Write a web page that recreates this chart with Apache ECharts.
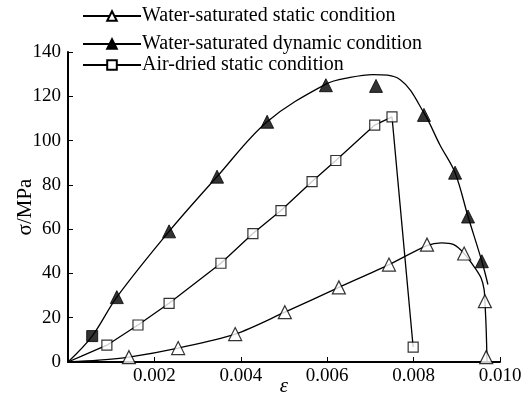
<!DOCTYPE html>
<html>
<head>
<meta charset="utf-8">
<script src="https://cdn.jsdelivr.net/npm/echarts@6/dist/echarts.min.js"></script>
<style>
html,body{margin:0;padding:0;background:#fff;}
#chart{width:530px;height:402px;}
</style>
</head>
<body>
<div id="chart"></div>
<script>
// names of the three test conditions
var seriesNames = ['Water-saturated static condition', 'Water-saturated dynamic condition', 'Air-dried static condition'];
var xTicks = [0, 0.002, 0.004, 0.006, 0.008, 0.010];
var yTicks = [0, 20, 40, 60, 80, 100, 120, 140];

// water-saturated static: curve and markers [strain, stress MPa]
var wsStaticCurve = [[0,0],[0.0007,0.8],[0.00141,2.2],[0.00255,6.3],[0.00387,12.6],[0.00502,22.5],[0.00627,33.7],
  [0.00743,44],[0.00831,52.6],[0.00865,53.8],[0.00893,53],[0.00917,49],[0.00942,42.5],[0.00956,38],
  [0.00963,32.9],[0.00965,27.5],[0.00968,14.9],[0.0097,0]];
var wsStaticMarks = [[0.00141,2.2],[0.00255,6.3],[0.00387,12.6],[0.00502,22.5],[0.00627,33.7],[0.00743,44],
  [0.00831,53],[0.00917,49],[0.00965,27.5],[0.00968,2.2]];

// water-saturated dynamic
var wsDynCurve = [[0,0],[0.00056,11.7],[0.00113,29.3],[0.00234,59],[0.00345,83.7],[0.00461,108.5],
  [0.00597,125.5],[0.00653,128.5],[0.00706,129.8],[0.00769,127.5],[0.00824,112.5],[0.00861,98],
  [0.00896,85.5],[0.00926,65.7],[0.00958,45.5],[0.00972,35]];
var wsDynMarks = [[0.00113,29.3],[0.00234,59],[0.00345,83.7],[0.00461,108.5],[0.00597,125],[0.00713,124.7],
  [0.00824,111.6],[0.00896,85.5],[0.00926,65.7],[0.00958,45.5]];
var wsDynFirst = [[0.00056,11.7]];

// air-dried static
var airCurve = [[0,0],[0.0003,2.5],[0.0009,7.6],[0.00162,16.7],[0.00234,26.5],[0.00354,44.6],[0.00428,58],
  [0.00493,68.4],[0.00565,81.5],[0.0062,91],[0.0071,107],[0.0075,110.7],[0.00799,6.7]];
var airMarks = [[0.0009,7.6],[0.00162,16.7],[0.00234,26.5],[0.00354,44.6],[0.00428,58],[0.00493,68.4],
  [0.00565,81.5],[0.0062,91],[0.0071,107],[0.0075,110.7],[0.00799,6.7]];

var font = 'Liberation Serif';
var openStyle = {color:'#fff', borderColor:'#000', borderWidth:1.2};
var fillStyle = {color:'#000', borderColor:'#000', borderWidth:1};

var myChart = echarts.init(document.getElementById('chart'));

function legendAt(name, top){
  return {
    data:[name], left:82, top:top, itemWidth:58, itemHeight:12, itemGap:0, padding:0,
    textStyle:{fontFamily:font, fontSize:20, color:'#000', padding:[0,0,0,-4]}
  };
}

var option = {
  animation:false,
  backgroundColor:'#fff',
  legend:[legendAt(seriesNames[0], 6), legendAt(seriesNames[1], 34), legendAt(seriesNames[2], 55)],
  grid:{left:68, right:30, top:52, bottom:40, outerBoundsMode:'none', containLabel:false},
  xAxis:{
    type:'value', min:0, max:0.010, interval:0.002,
    name:'ε', nameLocation:'middle', nameGap:14, nameMoveOverlap:false,
    nameTextStyle:{fontFamily:font, fontSize:21, fontStyle:'italic', color:'#000'},
    axisLine:{show:true, lineStyle:{color:'#000', width:2}},
    axisTick:{show:true, inside:true, length:5, lineStyle:{color:'#000', width:1}},
    axisLabel:{fontFamily:font, fontSize:19, color:'#000', margin:5,
      formatter:function(v){ return v === 0 ? '' : v.toFixed(3); }},
    splitLine:{show:false}
  },
  yAxis:{
    type:'value', min:yTicks[0], max:yTicks[yTicks.length-1], interval:20,
    name:'σ/MPa', nameLocation:'middle', nameGap:32, nameRotate:90, nameMoveOverlap:false,
    nameTextStyle:{fontFamily:font, fontSize:21, color:'#000'},
    axisLine:{show:true, lineStyle:{color:'#000', width:2}},
    axisTick:{show:true, inside:true, length:5, lineStyle:{color:'#000', width:1}},
    axisLabel:{fontFamily:font, fontSize:19, color:'#000', margin:7},
    splitLine:{show:false}
  },
  series:[
    {name:seriesNames[0], type:'line', data:wsStaticCurve, smooth:0.3, showSymbol:false,
      symbol:'triangle', symbolSize:11, itemStyle:openStyle, lineStyle:{color:'#000', width:1.3}},
    {name:seriesNames[1], type:'line', data:wsDynCurve, smooth:0.35, showSymbol:false,
      symbol:'triangle', symbolSize:11, itemStyle:fillStyle, lineStyle:{color:'#000', width:1.3}},
    {name:seriesNames[2], type:'line', data:airCurve, smooth:false, showSymbol:false,
      symbol:'rect', symbolSize:9, itemStyle:openStyle, lineStyle:{color:'#000', width:1.3}},
    {name:'m1', type:'scatter', data:wsStaticMarks, symbol:'triangle', symbolSize:13, itemStyle:openStyle, z:5},
    {name:'m2', type:'scatter', data:wsDynMarks, symbol:'triangle', symbolSize:13, itemStyle:fillStyle, z:5},
    {name:'m2b', type:'scatter', data:wsDynFirst, symbol:'rect', symbolSize:11, itemStyle:fillStyle, z:5},
    {name:'m3', type:'scatter', data:airMarks, symbol:'rect', symbolSize:10, itemStyle:openStyle, z:5}
  ]
};

myChart.setOption(option);
window.onresize = myChart.resize;
</script>
</body>
</html>
